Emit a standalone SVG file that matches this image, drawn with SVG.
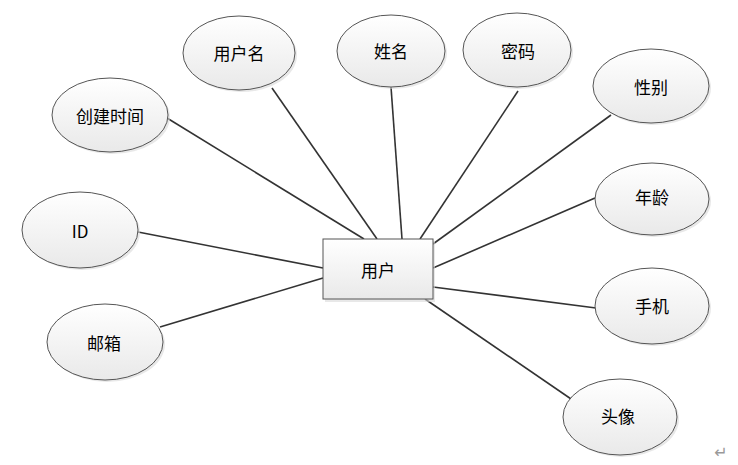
<svg xmlns="http://www.w3.org/2000/svg" width="738" height="465" viewBox="0 0 738 465">
<defs>
<linearGradient id="g" x1="0" y1="0" x2="0" y2="1">
<stop offset="0" stop-color="#ffffff"/>
<stop offset="1" stop-color="#e9e9e9"/>
</linearGradient>
<style>
.sh{fill:#d8d8d8;opacity:0.6}
.e{fill:url(#g);stroke:#555;stroke-width:1}
.t{font-family:"Noto Sans CJK SC","Liberation Sans",sans-serif;font-size:17px;fill:#000;text-anchor:middle;dominant-baseline:central}
.c line{stroke:#333;stroke-width:1.6}
</style>
</defs>
<rect width="738" height="465" fill="#fff"/>
<g class="c" id="connectors">
<line x1="167" y1="118" x2="364" y2="239"/>
<line x1="272" y1="88" x2="377" y2="239"/>
<line x1="391" y1="87" x2="402" y2="239"/>
<line x1="518" y1="91" x2="420" y2="239"/>
<line x1="611" y1="115" x2="433" y2="244"/>
<line x1="595" y1="198" x2="433" y2="268"/>
<line x1="596" y1="308" x2="433" y2="287"/>
<line x1="574" y1="401" x2="425" y2="299"/>
<line x1="138" y1="232" x2="323" y2="268"/>
<line x1="160" y1="327" x2="323" y2="278"/>
</g>
<g id="user">
<rect class="sh" x="325" y="241" width="110" height="61"/>
<rect class="e" x="323" y="239" width="110" height="60"/>
<text class="t" x="378" y="269">用户</text>
</g>
<g id="username">
<ellipse class="sh" cx="241" cy="55" rx="56" ry="37"/>
<ellipse class="e" cx="239" cy="53" rx="56" ry="37"/>
<text class="t" x="239" y="52">用户名</text>
</g>
<g id="name">
<ellipse class="sh" cx="393" cy="53" rx="54" ry="36"/>
<ellipse class="e" cx="391" cy="51" rx="54" ry="36"/>
<text class="t" x="391" y="50">姓名</text>
</g>
<g id="password">
<ellipse class="sh" cx="519" cy="52" rx="54" ry="37"/>
<ellipse class="e" cx="517" cy="50" rx="54" ry="37"/>
<text class="t" x="518" y="50">密码</text>
</g>
<g id="gender">
<ellipse class="sh" cx="653" cy="88" rx="58" ry="37"/>
<ellipse class="e" cx="651" cy="86" rx="58" ry="37"/>
<text class="t" x="651" y="86">性别</text>
</g>
<g id="created">
<ellipse class="sh" cx="112" cy="117" rx="58" ry="37"/>
<ellipse class="e" cx="110" cy="115" rx="58" ry="37"/>
<text class="t" x="110" y="115">创建时间</text>
</g>
<g id="id">
<ellipse class="sh" cx="82" cy="232" rx="58" ry="38"/>
<ellipse class="e" cx="80" cy="230" rx="58" ry="38"/>
<text class="t" x="80" y="230">ID</text>
</g>
<g id="email">
<ellipse class="sh" cx="107" cy="344" rx="58" ry="38"/>
<ellipse class="e" cx="105" cy="342" rx="58" ry="38"/>
<text class="t" x="104" y="342">邮箱</text>
</g>
<g id="age">
<ellipse class="sh" cx="654" cy="201" rx="57" ry="36"/>
<ellipse class="e" cx="652" cy="199" rx="57" ry="36"/>
<text class="t" x="652" y="196">年龄</text>
</g>
<g id="phone">
<ellipse class="sh" cx="654" cy="308" rx="57" ry="38"/>
<ellipse class="e" cx="652" cy="306" rx="57" ry="38"/>
<text class="t" x="652" y="305">手机</text>
</g>
<g id="avatar">
<ellipse class="sh" cx="622" cy="419" rx="57" ry="38"/>
<ellipse class="e" cx="620" cy="417" rx="57" ry="38"/>
<text class="t" x="618" y="415">头像</text>
</g>
<text x="721" y="458" style="font-family:'DejaVu Sans',sans-serif;font-size:16px;fill:#999" text-anchor="middle">↵</text>
</svg>
